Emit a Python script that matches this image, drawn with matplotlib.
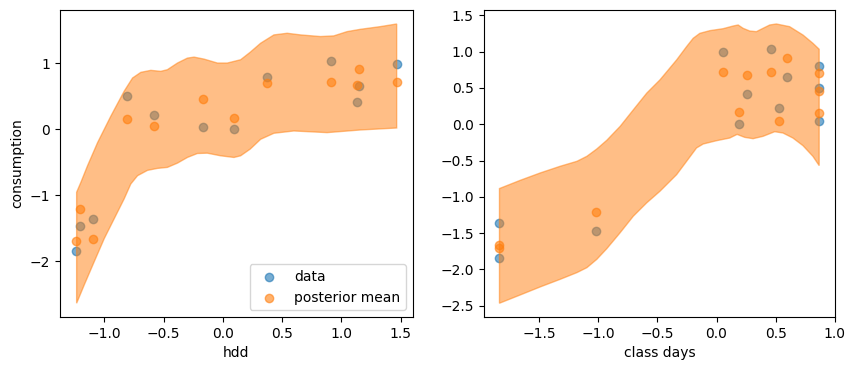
import numpy as np
from matplotlib import pyplot as plt

# observations
hdd = [-1.24, -1.21, -1.10, -0.81, -0.58, -0.17, 0.09, 0.37, 0.91, 1.13, 1.15, 1.466]
class_days = [-1.835, -1.02, -1.835, 0.868, 0.53, 0.868, 0.19, 0.868, 0.46, 0.26, 0.60, 0.056]
consumption = [-1.84, -1.47, -1.36, 0.50, 0.22, 0.04, 0.0, 0.80, 1.04, 0.42, 0.65, 0.99]
post_mean = [-1.70, -1.21, -1.66, 0.15, 0.05, 0.46, 0.17, 0.71, 0.72, 0.68, 0.91, 0.72]

# credible band vs hdd
hdd_up_x = [-1.235, -1.199, -1.143, -1.058, -0.946, -0.834, -0.763, -0.693, -0.609, -0.525,
            -0.469, -0.384, -0.300, -0.244, -0.160, -0.047, 0.037, 0.149, 0.23, 0.318,
            0.430, 0.542, 0.655, 0.823, 0.935, 1.048, 1.160, 1.329, 1.466]
hdd_up = [-0.955, -0.804, -0.553, -0.201, 0.201, 0.578, 0.779, 0.865, 0.895, 0.880,
          0.905, 1.006, 1.081, 1.096, 1.066, 1.006, 1.006, 1.056, 1.17, 1.307,
          1.433, 1.458, 1.433, 1.408, 1.418, 1.483, 1.518, 1.559, 1.599]
hdd_lo_x = [-1.235, -1.171, -1.087, -1.002, -0.890, -0.834, -0.778, -0.721, -0.637, -0.553,
            -0.469, -0.384, -0.300, -0.216, -0.132, -0.019, 0.093, 0.149, 0.23, 0.318,
            0.430, 0.598, 0.879, 1.160, 1.466]
hdd_lo = [-2.640, -2.363, -2.011, -1.659, -1.257, -1.056, -0.830, -0.704, -0.623, -0.593,
          -0.578, -0.513, -0.427, -0.367, -0.362, -0.402, -0.427, -0.402, -0.30, -0.151,
          -0.060, -0.025, -0.050, -0.010, 0.020]

# credible band vs class days
days_up_x = [-1.835, -1.658, -1.490, -1.321, -1.180, -1.096, -1.012, -0.928, -0.815, -0.703,
             -0.590, -0.478, -0.337, -0.253, -0.197, -0.141, -0.056, 0.056, 0.141, 0.183,
             0.225, 0.281, 0.337, 0.393, 0.450, 0.506, 0.618, 0.731, 0.815, 0.868]
days_up = [-0.886, -0.772, -0.671, -0.579, -0.511, -0.442, -0.341, -0.222, -0.030, 0.199,
           0.428, 0.611, 0.886, 1.069, 1.184, 1.252, 1.289, 1.316, 1.353, 1.367,
           1.321, 1.284, 1.275, 1.321, 1.367, 1.381, 1.344, 1.229, 1.115, 1.033]
days_lo_x = [-1.835, -1.658, -1.490, -1.321, -1.180, -1.096, -1.012, -0.928, -0.815, -0.703,
             -0.590, -0.478, -0.337, -0.253, -0.169, -0.112, 0.0, 0.112, 0.174, 0.239,
             0.309, 0.393, 0.492, 0.562, 0.646, 0.731, 0.815, 0.868]
days_lo = [-2.466, -2.351, -2.241, -2.136, -2.044, -1.976, -1.861, -1.715, -1.495, -1.266,
           -1.083, -0.923, -0.694, -0.511, -0.327, -0.272, -0.227, -0.190, -0.140, -0.181,
           -0.199, -0.167, -0.103, -0.121, -0.190, -0.295, -0.442, -0.570]

fig = plt.figure(figsize=(8.55, 3.71), dpi=100)
ax1 = fig.add_axes([0.0702, 0.145, 0.4125, 0.828])
ax2 = fig.add_axes([0.5655, 0.145, 0.4113, 0.828])


def band(ax, xu, yu, xl, yl):
    px = np.concatenate([xu, xl[::-1]])
    py = np.concatenate([yu, yl[::-1]])
    ax.fill(px, py, color='C1', alpha=0.5)


# points first, band drawn over them
ax1.scatter(hdd, consumption, color='C0', alpha=0.6, label='data')
ax1.scatter(hdd, post_mean, color='C1', alpha=0.6, label='posterior mean')
band(ax1, hdd_up_x, hdd_up, hdd_lo_x, hdd_lo)
ax1.set_xlabel('hdd')
ax1.set_ylabel('consumption')
ax1.legend(loc='lower right')

ax2.scatter(class_days, consumption, color='C0', alpha=0.6)
ax2.scatter(class_days, post_mean, color='C1', alpha=0.6)
band(ax2, days_up_x, days_up, days_lo_x, days_lo)
ax2.set_xlabel('class days')

plt.savefig('out.png')
